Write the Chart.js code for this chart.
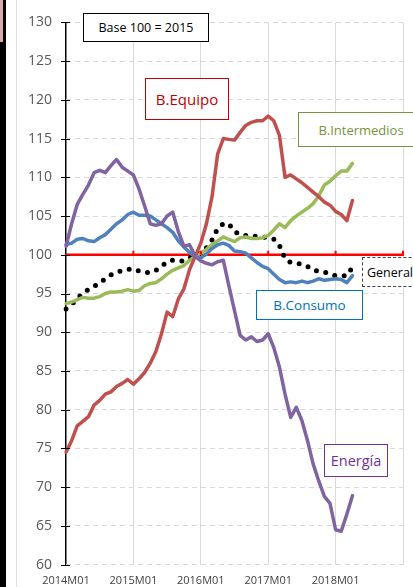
<!DOCTYPE html>
<html>
<head>
<meta charset="utf-8">
<script src="https://cdn.jsdelivr.net/npm/chart.js@4.4.1/dist/chart.umd.min.js"></script>
<style>
  html, body { margin: 0; padding: 0; background: #fff; }
  #wrap { position: relative; width: 413px; height: 587px; overflow: hidden; font-family: "Open Sans", "Liberation Sans", sans-serif; font-weight: 400; }
  canvas { position: absolute; left: 0; top: 0; }
  .box { position: absolute; background: #fff; box-sizing: border-box; display: flex; align-items: center; justify-content: center; white-space: nowrap; }
  .edge { position: absolute; }
</style>
</head>
<body>
<div id="wrap">
  <canvas id="chart" width="413" height="587"></canvas>
  <div class="edge" style="left:0;top:0;width:3px;height:42px;background:#d9a9a9"></div>
  <div class="edge" style="left:3px;top:0;width:3px;height:42px;background:#000"></div>
  <div class="edge" style="left:0;top:42px;width:6px;height:545px;background:#000"></div>
  <div class="edge" style="left:16px;top:0;width:1px;height:587px;background:#e0e0e0"></div>

  <div class="box" style="left:83px;top:13px;width:126px;height:29px;border:1px solid #000;color:#000;font-size:12.5px">Base 100 = 2015</div>
  <div class="box" style="left:145px;top:78px;width:84px;height:42px;border:1px solid #c00000;color:#c00000;font-size:15px">B.Equipo</div>
  <div class="box" style="left:298px;top:112px;width:126px;height:35px;border:1px solid #77933c;color:#77933c;font-size:13px">B.Intermedios</div>
  <div class="box" style="left:362px;top:257px;width:60px;height:30px;border:1.5px dashed #404040;color:#000;font-size:12.5px;justify-content:flex-start;padding-left:4px">General</div>
  <div class="box" style="left:256px;top:290px;width:107px;height:30px;border:1px solid #0070c0;color:#0070c0;font-size:13.5px">B.Consumo</div>
  <div class="box" style="left:324px;top:444px;width:64px;height:33px;border:1px solid #7030a0;color:#7030a0;font-size:14.5px">Energía</div>
</div>
<script>
// monthly categories 2014M01 .. 2019M01
var months = [];
for (var y = 2014; y <= 2019; y++) {
  for (var m = 1; m <= 12; m++) {
    if (y === 2019 && m > 1) break;
    months.push(y + 'M' + (m < 10 ? '0' + m : m));
  }
}

var energia = [101.1, 104, 106.5, 107.8, 109, 110.6, 110.9, 110.6, 111.5, 112.3, 111.3, 110.8,
  110.3, 108.5, 106.3, 104, 103.8, 104.0, 105, 105.5, 103, 101.1, 101.3, 99.8,
  99.2, 98.9, 98.7, 99.1, 99.3, 96, 92.8, 89.6, 89.0, 89.4, 88.8, 89.0,
  89.8, 88, 85.5, 82, 79, 80.3, 78.6, 76, 73, 70.8, 68.8, 67.9,
  64.5, 64.3, 66.5, 68.9];

var equipo = [74.5, 76, 77.9, 78.5, 79.1, 80.6, 81.2, 82, 82.3, 83, 83.4, 83.9,
  83.3, 84.0, 84.8, 86, 87.5, 89.8, 92.6, 92.0, 94.3, 95.6, 98.1, 99.8,
  101.5, 104, 107.5, 113.0, 115, 114.9, 114.8, 115.8, 116.7, 117.1, 117.3, 117.3,
  117.9, 117.3, 115.4, 110, 110.3, 109.8, 109.3, 108.7, 108.1, 107.5, 106.8, 106.4,
  105.6, 105.2, 104.4, 107.0];

var consumo = [101.3, 101.5, 102.0, 102.1, 101.8, 101.7, 102.2, 102.6, 103.3, 104, 104.5, 105.2,
  105.5, 105.1, 105.1, 105.0, 104.5, 104.0, 103.5, 102.9, 101.8, 101.0, 100.3, 99.7,
  99.6, 100.1, 100.8, 101.3, 101.5, 101.2, 100.5, 100.4, 100.2, 99.6, 99.0, 98.5,
  98.2, 97.5, 96.8, 96.4, 96.5, 96.4, 96.6, 96.4, 96.6, 96.9, 96.7, 96.8,
  96.9, 96.8, 96.4, 97.3];

var intermedios = [93.7, 93.9, 94.2, 94.5, 94.4, 94.4, 94.6, 95.0, 95.2, 95.2, 95.3, 95.5,
  95.3, 95.4, 96.0, 96.3, 96.4, 96.9, 97.5, 98.0, 98.3, 98.6, 99.3, 99.8,
  100.2, 100.7, 101.3, 101.8, 102.3, 102.0, 101.7, 102.2, 102.3, 102.1, 102.1, 102.2,
  102.5, 103.2, 104.0, 103.5, 104.4, 105.0, 105.5, 106.0, 106.6, 107.6, 109.0, 109.5,
  110.2, 110.8, 110.8, 111.8];

var general = [93.0, 93.6, 94.3, 95.1, 95.5, 95.9, 96.4, 96.9, 97.4, 97.7, 98.0, 98.1,
  98.2, 97.9, 97.7, 97.7, 98.0, 98.5, 99.1, 99.3, 99.2, 99.2, 99.6, 99.9,
  100.2, 100.9, 101.9, 103.4, 104.0, 104.0, 103.0, 102.6, 102.5, 102.4, 102.4, 102.3,
  102.2, 102.0, 101.2, 99.5, 99.0, 98.9, 98.8, 98.5, 98.0, 97.9, 97.8, 97.5,
  97.3, 97.3, 97.3, 98.4];

var base = months.map(function() { return 100; });

var yMin = 60, yMax = 130, yStep = 5;

var axisMarks = {
  id: 'axisMarks',
  afterDatasetsDraw: function(chart) {
    var ctx = chart.ctx, ys = chart.scales.y, xs = chart.scales.x;
    ctx.save();
    // black tick marks across the value axis
    ctx.strokeStyle = '#000';
    ctx.lineWidth = 1;
    ys.ticks.forEach(function(t) {
      var py = Math.round(ys.getPixelForValue(t.value)) + 0.5;
      ctx.beginPath();
      ctx.moveTo(xs.left - 5, py);
      ctx.lineTo(xs.left + 4, py);
      ctx.stroke();
    });
    // red ticks on the base line
    ctx.strokeStyle = '#ff0000';
    ctx.lineWidth = 2;
    var p100 = ys.getPixelForValue(100);
    for (var i = 12; i < months.length; i += 12) {
      var px = xs.getPixelForValue(i);
      ctx.beginPath();
      ctx.moveTo(px, p100);
      ctx.lineTo(px, p100 - 4);
      ctx.stroke();
    }
    ctx.restore();
  }
};

function line(label, data, color, width) {
  return {
    label: label,
    data: data,
    borderColor: color,
    borderWidth: width,
    pointRadius: 0,
    fill: false,
    tension: 0,
    borderJoinStyle: 'round',
    borderCapStyle: 'round'
  };
}

var generalSet = line('General', general, '#000', 5);
generalSet.borderDash = [0, 9.5];

new Chart(document.getElementById('chart'), {
  type: 'line',
  data: {
    labels: months,
    datasets: [
      line('Energía', energia, '#8064a2', 3.5),
      line('B.Equipo', equipo, '#c0504d', 3.5),
      line('B.Consumo', consumo, '#4f81bd', 3.5),
      line('B.Intermedios', intermedios, '#9bbb59', 3.5),
      generalSet,
      line('Base', base, '#ff0000', 2.5)
    ]
  },
  options: {
    responsive: false,
    animation: false,
    devicePixelRatio: 1,
    layout: { padding: { left: 0, right: 8, top: 15, bottom: 0 } },
    plugins: { legend: { display: false }, tooltip: { enabled: false } },
    scales: {
      x: {
        offset: false,
        afterFit: function(s) { s.height = 20; },
        border: { display: false },
        grid: {
          drawTicks: false,
          color: function(c) {
            if (c.index === 0) return '#000';
            return c.index % 12 === 0 ? '#d9d9d9' : 'rgba(0,0,0,0)';
          },
          lineWidth: function(c) { return c.index === 0 ? 1.5 : 1; }
        },
        ticks: {
          autoSkip: false,
          maxRotation: 0,
          padding: 10,
          color: '#404040',
          font: { family: 'Open Sans', size: 11 },
          callback: function(v, i) {
            return (i % 12 === 0 && i < months.length - 1) ? months[i] : '';
          }
        }
      },
      y: {
        min: yMin,
        max: yMax,
        afterFit: function(s) { s.width = 66; },
        border: { display: false, dash: [5, 4] },
        grid: { drawTicks: false, color: '#d9d9d9', lineWidth: 1 },
        ticks: {
          stepSize: yStep,
          padding: 14,
          color: '#595959',
          font: { family: 'Open Sans', size: 14 }
        }
      }
    }
  },
  plugins: [axisMarks]
});
</script>
</body>
</html>
